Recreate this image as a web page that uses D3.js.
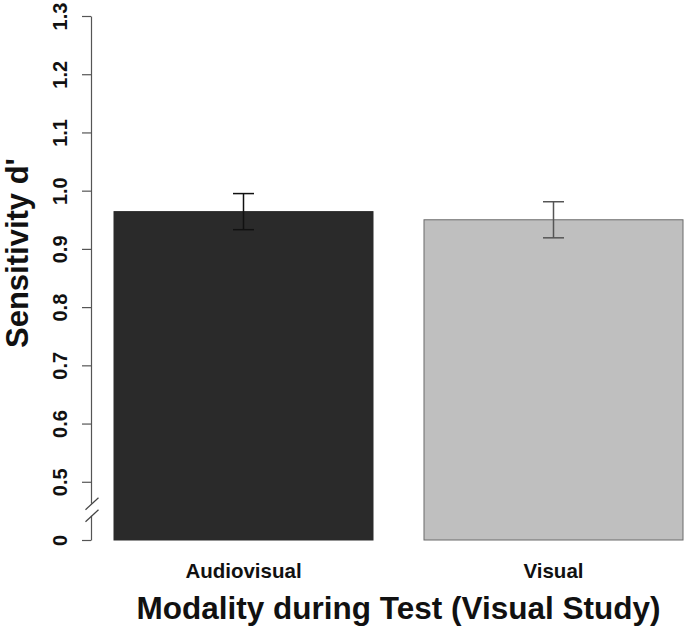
<!DOCTYPE html>
<html><head><meta charset="utf-8">
<script src="https://cdn.jsdelivr.net/npm/d3@7"></script>
<style>body{margin:0;background:#fff}svg{display:block}</style>
</head><body>
<script>
const categories = ["Audiovisual", "Visual"];
const means = [0.964, 0.950];
const errLow = [0.933, 0.919];
const errHigh = [0.995, 0.981];
const tickValues = [0.4, 0.5, 0.6, 0.7, 0.8, 0.9, 1.0, 1.1, 1.2, 1.3];
const tickLabels = ["0", "0.5", "0.6", "0.7", "0.8", "0.9", "1.0", "1.1", "1.2", "1.3"];
const barFills = ["#2a2a2a", "#bfbfbf"];
const barStrokes = ["#2a2a2a", "#6a6a6a"];
const errColors = ["#111111", "#555555"];
const breakValue = 0.452;

const W = 685, H = 632;
const svg = d3.select("body").append("svg").attr("width", W).attr("height", H);
const font = "'Liberation Sans', Arial, sans-serif";

const y = d3.scaleLinear().domain([0.4, 1.3]).range([540, 16]);
const x = d3.scaleBand().domain(categories).range([114, 683]).paddingInner(0.1645).paddingOuter(0);

// bars
svg.selectAll("rect.bar").data(categories).enter().append("rect")
  .attr("x", d => x(d)).attr("width", x.bandwidth())
  .attr("y", (d, i) => y(means[i])).attr("height", (d, i) => y(0.4) - y(means[i]))
  .attr("fill", (d, i) => barFills[i]).attr("stroke", (d, i) => barStrokes[i]).attr("stroke-width", 1);

// error bars
const cap = 10.5;
categories.forEach((c, i) => {
  const cx = x(c) + x.bandwidth() / 2;
  const g = svg.append("g").attr("stroke", errColors[i]).attr("stroke-width", 1.5);
  g.append("line").attr("x1", cx).attr("x2", cx).attr("y1", y(errLow[i])).attr("y2", y(errHigh[i]));
  g.append("line").attr("x1", cx - cap).attr("x2", cx + cap).attr("y1", y(errLow[i])).attr("y2", y(errLow[i]));
  g.append("line").attr("x1", cx - cap).attr("x2", cx + cap).attr("y1", y(errHigh[i])).attr("y2", y(errHigh[i]));
});

// y axis
const ax = svg.append("g").attr("transform", "translate(91,0)")
  .call(d3.axisLeft(y).tickValues(tickValues).tickSize(9).tickSizeOuter(0)
    .tickFormat((d, i) => tickLabels[i]));
ax.select(".domain").attr("stroke", "#555").attr("stroke-width", 1.2);
ax.selectAll(".tick line").attr("stroke", "#555").attr("stroke-width", 1.2);
ax.selectAll(".tick text")
  .attr("font-family", font).attr("font-weight", "bold").attr("font-size", 20)
  .attr("fill", "#111")
  .attr("x", null).attr("dy", null)
  .attr("transform", "translate(-24,0) rotate(-90)")
  .attr("text-anchor", "middle").attr("dominant-baseline", "auto");

// axis break
const by = y(breakValue);
svg.append("rect").attr("x", 86).attr("y", by - 6).attr("width", 12).attr("height", 12).attr("fill", "#fff");
[-6, 6].forEach(o => {
  svg.append("line").attr("x1", 85.5).attr("y1", by + o + 6).attr("x2", 98.5).attr("y2", by + o - 6)
    .attr("stroke", "#444").attr("stroke-width", 1.2);
});

// category labels
svg.selectAll("text.cat").data(categories).enter().append("text")
  .attr("x", d => x(d) + x.bandwidth() / 2).attr("y", 578)
  .attr("text-anchor", "middle").attr("font-family", font).attr("font-weight", "bold")
  .attr("font-size", 20.5).attr("fill", "#111").text(d => d);

// axis titles
svg.append("text").attr("x", (114 + 683) / 2).attr("y", 619)
  .attr("text-anchor", "middle").attr("font-family", font).attr("font-weight", "bold")
  .attr("font-size", 31.5).attr("fill", "#111").text("Modality during Test (Visual Study)");
svg.append("text").attr("transform", "translate(28,253) rotate(-90)")
  .attr("text-anchor", "middle").attr("font-family", font).attr("font-weight", "bold")
  .attr("font-size", 31).attr("fill", "#111").text("Sensitivity d'");
</script>
</body></html>
